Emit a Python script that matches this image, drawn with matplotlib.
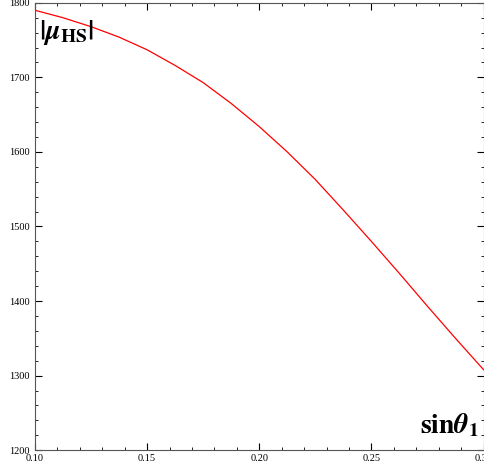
import matplotlib
matplotlib.use("Agg")
import matplotlib.pyplot as plt
from matplotlib.ticker import MultipleLocator

# values
sin_theta = [0.10, 0.1125, 0.125, 0.1375, 0.15, 0.1625, 0.175, 0.1875, 0.20,
             0.2125, 0.225, 0.2375, 0.25, 0.2625, 0.275, 0.2875, 0.30]
mu_hs = [1790, 1780, 1768, 1754, 1737, 1716, 1693, 1665, 1634,
         1600, 1563, 1522, 1480, 1437, 1393, 1350, 1308]

plt.rcParams['font.family'] = ['Liberation Serif', 'DejaVu Serif']
plt.rcParams['mathtext.fontset'] = 'stix'

fig = plt.figure(figsize=(4.85, 4.67), dpi=100)
ax = fig.add_axes([0.072, 0.036, 0.925, 0.958])
ax.plot(sin_theta, mu_hs, color='red', lw=0.9)
ax.set_xlim(0.10, 0.30)
ax.set_ylim(1200, 1800)

ax.xaxis.set_major_locator(MultipleLocator(0.05))
ax.xaxis.set_minor_locator(MultipleLocator(0.01))
ax.yaxis.set_major_locator(MultipleLocator(100))
ax.yaxis.set_minor_locator(MultipleLocator(20))
ax.xaxis.set_major_formatter(plt.FuncFormatter(lambda v, p: f"{v:.2f}"))
ax.tick_params(which='both', direction='in', top=True, right=True, labelsize=7.5)
ax.tick_params(which='major', length=5)
ax.tick_params(which='minor', length=2.5)
ax.tick_params(axis='x', pad=3)
for s in ax.spines.values():
    s.set_color('#555555')

ax.text(0.01, 0.965, r'$\mathbf{|}\boldsymbol{\mu}_{\mathbf{HS}}\mathbf{|}$', transform=ax.transAxes,
        fontsize=20, va='top', ha='left')
ax.text(0.99, 0.025, r'$\mathbf{sin}\boldsymbol{\theta}_\mathbf{1}$', transform=ax.transAxes,
        fontsize=20, va='bottom', ha='right')

fig.savefig('out.png', dpi=100)
